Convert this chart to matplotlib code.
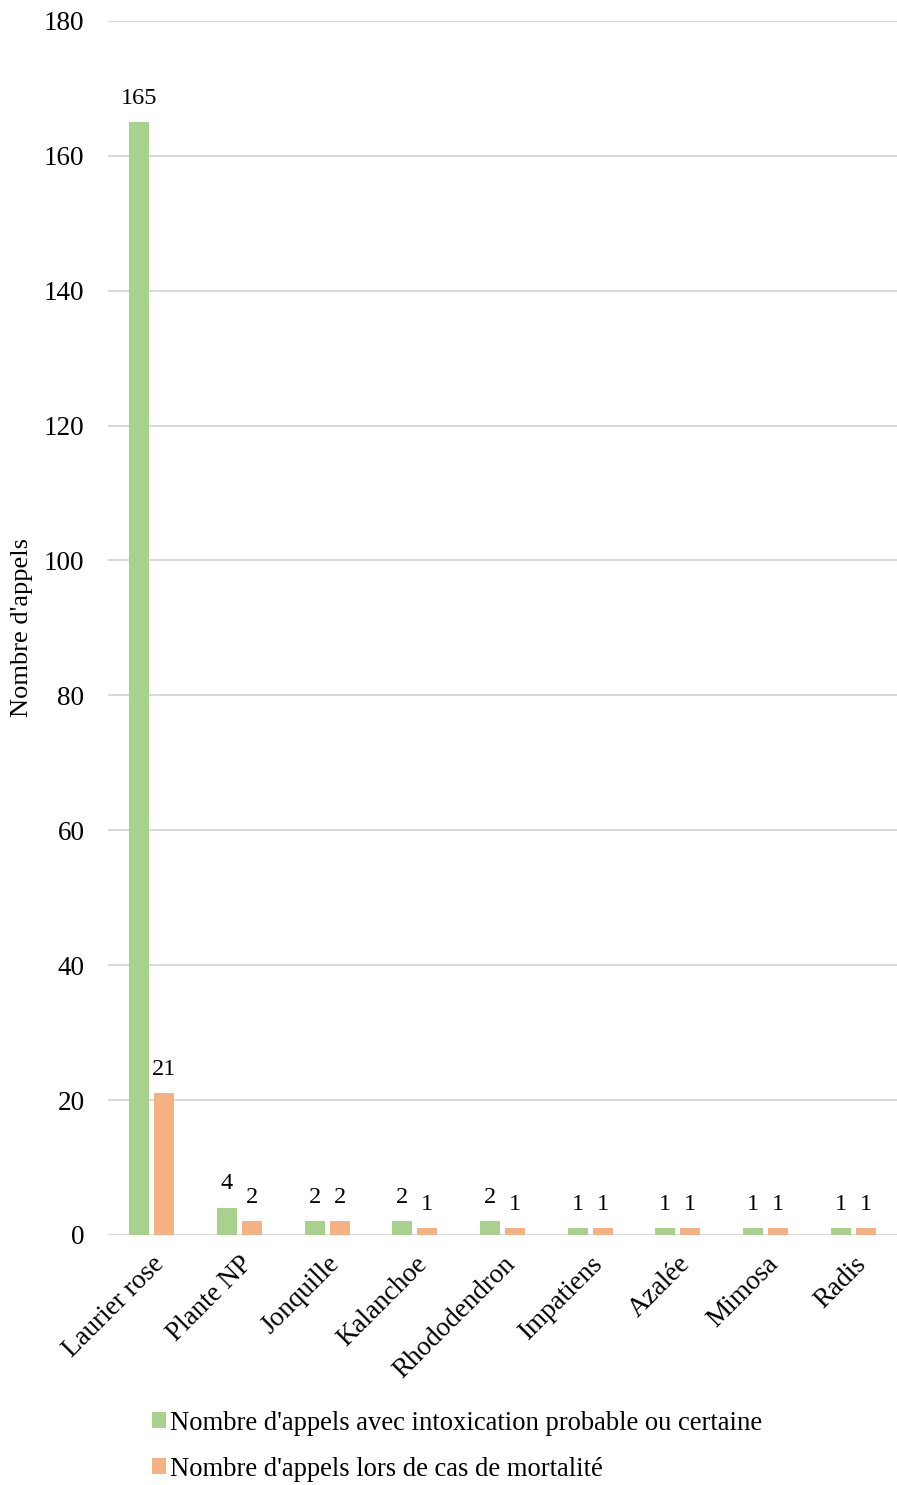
import matplotlib
matplotlib.use("Agg")
import matplotlib.pyplot as plt
import numpy as np

categories = ["Laurier rose", "Plante NP", "Jonquille", "Kalanchoe", "Rhododendron",
              "Impatiens", "Azalée", "Mimosa", "Radis"]
intoxication = [165, 4, 2, 2, 2, 1, 1, 1, 1]
mortalite = [21, 2, 2, 1, 1, 1, 1, 1, 1]
series_names = ["Nombre d'appels avec intoxication probable ou certaine",
                "Nombre d'appels lors de cas de mortalité"]
yticks = [0, 20, 40, 60, 80, 100, 120, 140, 160, 180]

plt.rcParams["font.family"] = ["Liberation Serif", "DejaVu Serif"]

green = "#a9d18e"
orange = "#f4b183"

fig = plt.figure(figsize=(8.97, 14.85), dpi=100)
ax = fig.add_axes([0.1204, 0.1684, 0.8796, 0.8175])

x = np.arange(len(categories))
w = 0.228
gap = 0.057
b1 = ax.bar(x - (w + gap) / 2, intoxication, w, color=green, label=series_names[0], zorder=3)
b2 = ax.bar(x + (w + gap) / 2, mortalite, w, color=orange, label=series_names[1], zorder=3)

for bars, vals in ((b1, intoxication), (b2, mortalite)):
    for r, v in zip(bars, vals):
        ax.text(r.get_x() + r.get_width() / 2, v + 2.0, str(v), ha="center", va="bottom",
                fontsize=17.5, color="#000000")

ax.set_xlim(-0.5, len(categories) - 0.5)
ax.set_ylim(0, 180)
ax.set_yticks(yticks)
ax.set_yticklabels([str(t) for t in yticks], fontsize=19.5)
ax.grid(axis="y", color="#d9d9d9", linewidth=1.5, zorder=0)
ax.set_axisbelow(True)
for s in ax.spines.values():
    s.set_visible(False)
ax.tick_params(axis="both", length=0)
ax.tick_params(axis="y", pad=17)

ax.set_xticks(x)
ax.set_xticklabels(categories, rotation=45, ha="right", rotation_mode="anchor", fontsize=19.5)
ax.tick_params(axis="x", pad=12)

ax.set_ylabel("Nombre d'appels", fontsize=19)
ax.yaxis.set_label_coords(-0.095, 0.5)

leg = fig.legend(handles=[b1, b2], labels=series_names, loc="upper left",
                 bbox_to_anchor=(0.169, 0.05), frameon=False, fontsize=19.2,
                 handlelength=0.55, handleheight=0.55, handletextpad=0.15,
                 labelspacing=0.78, borderaxespad=0, borderpad=0)

fig.savefig("out.png", dpi=100, facecolor="white")
